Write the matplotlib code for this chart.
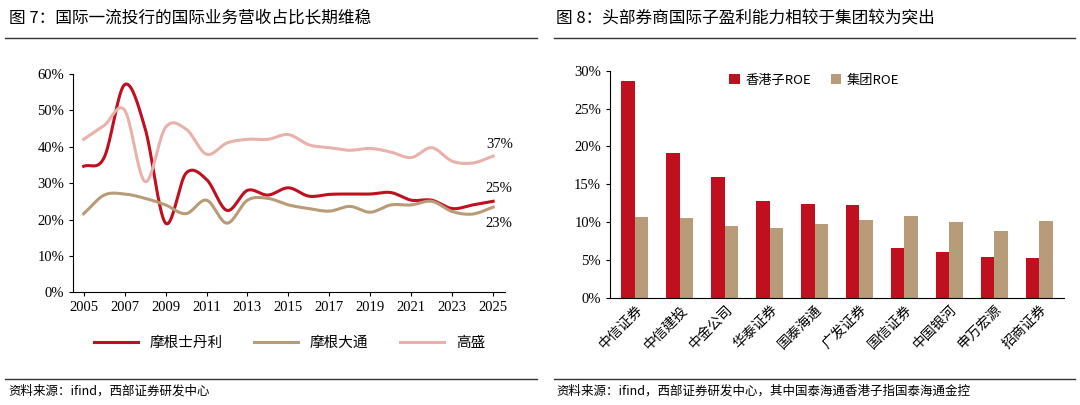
import matplotlib
matplotlib.use("Agg")
import matplotlib.pyplot as plt
import numpy as np
from matplotlib.lines import Line2D

plt.rcParams['font.family'] = ['Noto Sans CJK SC', 'DejaVu Sans']

years = list(range(2005, 2026))
ms = [34.6, 37, 57, 45, 19, 32.7, 31, 22.5, 28, 26.7, 28.7, 26.4, 26.9, 27, 27, 27.4, 25.3, 25.3, 23, 24, 25]
jpm = [21.6, 26.7, 27, 25.8, 24, 21.6, 25.3, 19, 25.3, 25.8, 24, 23, 22.3, 23.6, 22, 24, 24, 25, 22.2, 21.5, 23.4]
gs = [42, 45.8, 50, 30.4, 45.3, 44.8, 37.9, 41, 42, 42, 43.3, 40.5, 39.7, 39, 39.5, 38.5, 37, 39.7, 36, 35.5, 37.4]

brokers = ['中信证券', '中信建投', '中金公司', '华泰证券', '国泰海通', '广发证券', '国信证券', '中国银河', '申万宏源', '招商证券']
hk_roe = [28.6, 19.1, 16.0, 12.8, 12.4, 12.3, 6.6, 6.0, 5.4, 5.3]
group_roe = [10.7, 10.6, 9.5, 9.2, 9.8, 10.3, 10.8, 10.0, 8.8, 10.1]

RED = '#c00f1e'
TAN = '#b89b78'
PINK = '#e8b2aa'
SERIF = 'Liberation Serif'


def smooth(x, y, n=20):
    # Catmull-Rom curve through the points, for drawing only
    x = np.asarray(x, float); y = np.asarray(y, float)
    px = np.concatenate([[2 * x[0] - x[1]], x, [2 * x[-1] - x[-2]]])
    py = np.concatenate([[2 * y[0] - y[1]], y, [2 * y[-1] - y[-2]]])
    xs, ys = [], []
    t = np.linspace(0, 1, n, endpoint=False)
    for i in range(1, len(px) - 2):
        for p, out in ((px, xs), (py, ys)):
            p0, p1, p2, p3 = p[i - 1], p[i], p[i + 1], p[i + 2]
            out.extend(0.5 * (2 * p1 + (-p0 + p2) * t + (2 * p0 - 5 * p1 + 4 * p2 - p3) * t ** 2
                              + (-p0 + 3 * p1 - 3 * p2 + p3) * t ** 3))
    xs.append(x[-1]); ys.append(y[-1])
    return xs, ys


fig = plt.figure(figsize=(10.8, 4.05), dpi=100)
fig.patch.set_facecolor('white')

# titles, rules and sources
fig.text(0.008, 0.955, '图 7：国际一流投行的国际业务营收占比长期维稳', fontsize=12, va='center')
fig.text(0.515, 0.955, '图 8：头部券商国际子盈利能力相较于集团较为突出', fontsize=12, va='center')
for x0, x1 in ((0.005, 0.497), (0.513, 0.995)):
    fig.add_artist(Line2D([x0, x1], [0.905, 0.905], color='#333333', lw=1))
    fig.add_artist(Line2D([x0, x1], [0.065, 0.065], color='#333333', lw=1))
fig.text(0.008, 0.035, '资料来源：ifind，西部证券研发中心', fontsize=9, va='center')
fig.text(0.515, 0.035, '资料来源：ifind，西部证券研发中心，其中国泰海通香港子指国泰海通金控', fontsize=9, va='center')

# left chart
ax = fig.add_axes([0.068, 0.278, 0.40, 0.54])
for vals, c, lab in ((ms, RED, '摩根士丹利'), (jpm, TAN, '摩根大通'), (gs, PINK, '高盛')):
    sx, sy = smooth(years, vals)
    ax.plot(sx, sy, color=c, lw=2.2, label=lab)
ax.set_ylim(0, 60)
ax.set_xlim(2004.5, 2025.6)
ax.set_yticks(range(0, 61, 10))
ax.set_yticklabels([f'{v}%' for v in range(0, 61, 10)], fontfamily=SERIF, fontsize=10.5)
ax.set_xticks(range(2005, 2026, 2))
ax.set_xticklabels([str(y) for y in range(2005, 2026, 2)], fontfamily=SERIF, fontsize=10.5)
for s in ('top', 'right'):
    ax.spines[s].set_visible(False)
ax.tick_params(length=3)
ax.text(2025.3, 39.5, '37%', fontfamily=SERIF, fontsize=10.5, ha='center')
ax.text(2025.3, 27.5, '25%', fontfamily=SERIF, fontsize=10.5, ha='center')
ax.text(2025.3, 18.0, '23%', fontfamily=SERIF, fontsize=10.5, ha='center')
ax.legend(loc='upper center', bbox_to_anchor=(0.5, -0.14), ncol=3, frameon=False,
          fontsize=10.5, handlelength=3, columnspacing=2.2)

# right chart
bx = fig.add_axes([0.565, 0.265, 0.42, 0.56])
x = np.arange(len(brokers))
w = 0.3
bx.bar(x - w / 2, hk_roe, w, color=RED, label='香港子ROE')
bx.bar(x + w / 2, group_roe, w, color=TAN, label='集团ROE')
bx.set_ylim(0, 30)
bx.set_xlim(-0.55, len(brokers) - 0.45)
bx.set_yticks(range(0, 31, 5))
bx.set_yticklabels([f'{v}%' for v in range(0, 31, 5)], fontfamily=SERIF, fontsize=10.5)
bx.set_xticks(x)
bx.set_xticklabels(brokers, rotation=45, ha='right', rotation_mode='anchor', fontsize=10)
bx.tick_params(axis='x', length=0)
bx.tick_params(axis='y', length=3)
for s in ('top', 'right'):
    bx.spines[s].set_visible(False)
bx.legend(loc='upper center', bbox_to_anchor=(0.45, 1.04), ncol=2, frameon=False,
          fontsize=9.5, handlelength=0.8, handleheight=0.8, columnspacing=1.5, handletextpad=0.4)

fig.savefig('out.png', dpi=100)
